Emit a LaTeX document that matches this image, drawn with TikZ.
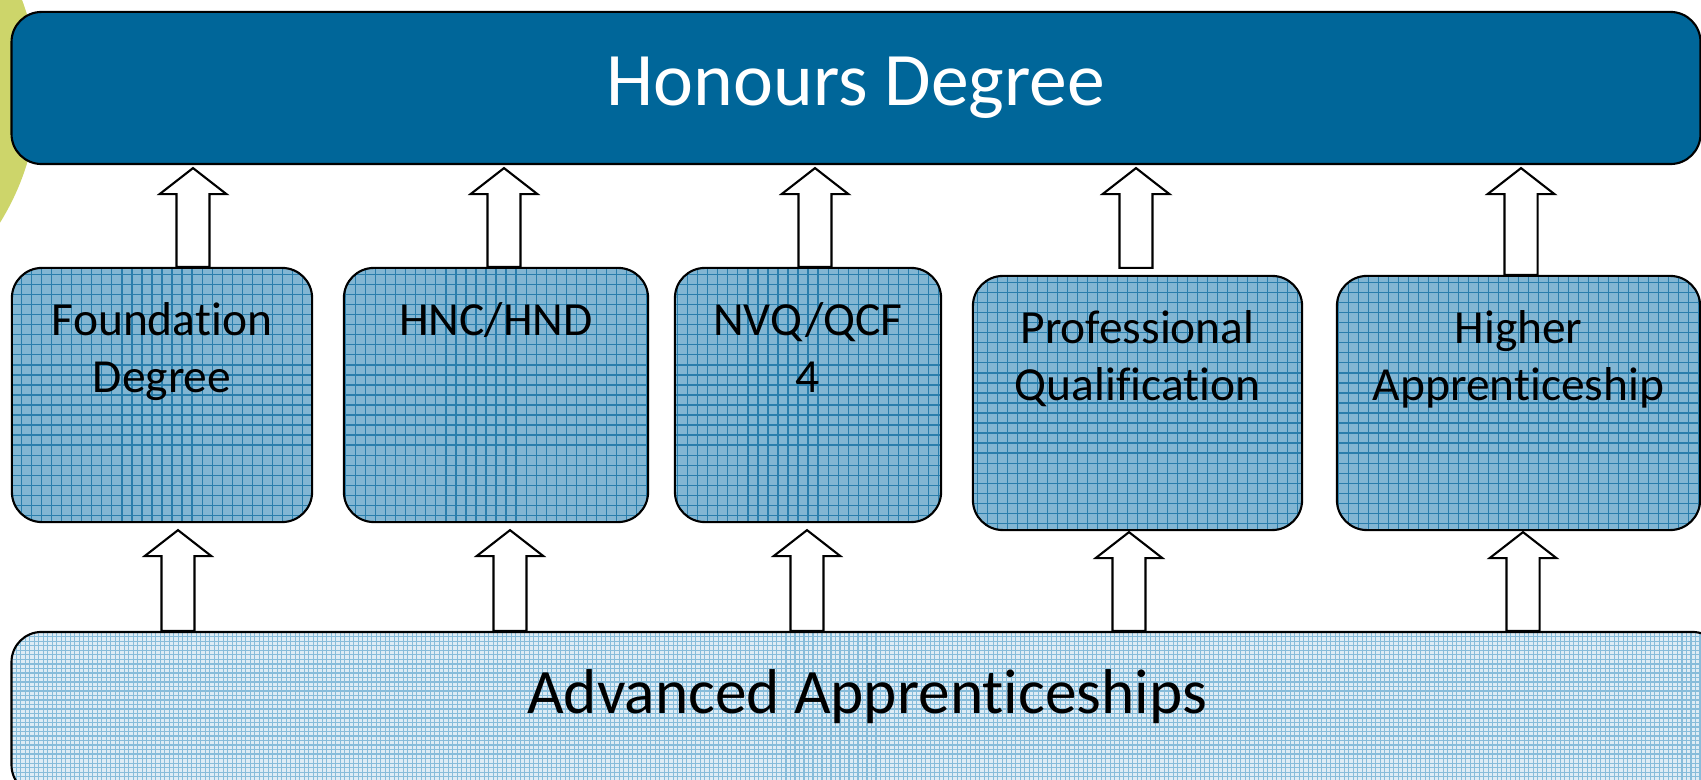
\documentclass[tikz,border=0pt]{standalone}
\usepackage{fontspec}
\setmainfont{Carlito}[Ligatures=NoCommon]
\usetikzlibrary{positioning,calc}

\definecolor{honblue}{RGB}{0,102,153}
\definecolor{midfill}{RGB}{130,182,211}
\definecolor{midgrid}{RGB}{42,126,172}
\definecolor{advfill}{RGB}{222,236,245}
\definecolor{advgrid}{RGB}{135,188,218}
\definecolor{slidegreen}{RGB}{205,213,106}

\tikzset{
  box/.style={draw, line width=0.6pt, rounded corners=0.3cm, inner sep=0pt},
  midbox/.style={box, fill=midfill, minimum height=2.54cm,
    path picture={\draw[midgrid, line width=0.3pt] (path picture bounding box.south west)
      grid[step=0.1cm] (path picture bounding box.north east);}},
  advbox/.style={box, fill=advfill,
    path picture={\draw[advgrid, line width=0.3pt] (path picture bounding box.south west)
      grid[step=0.045cm] (path picture bounding box.north east);}},
  midtext/.style={font=\fontsize{13.5}{16.2}\selectfont, align=center, inner sep=0pt},
  blockarrow/.style={draw, fill=white, line width=0.6pt, to path={
    let \p1=(\tikztostart), \p2=(\tikztotarget) in
    (\x1-4.7pt,\y1) -- (\x1-4.7pt,\y2-7.4pt) -- (\x1-9.5pt,\y2-7.4pt) -- (\x1,\y2)
    -- (\x1+9.5pt,\y2-7.4pt) -- (\x1+4.7pt,\y2-7.4pt) -- (\x1+4.7pt,\y1) -- cycle}}
}

\begin{document}
\begin{tikzpicture}[x=0.01cm, y=-0.01cm]
    \useasboundingbox (0,0) rectangle (1701,780);
    \clip (0,0) rectangle (1701,780);

    % slide background
    \fill[slidegreen] (-215,89) circle[radius=2.53cm];

    % top and bottom bars
    \node[box, fill=honblue, text=white, minimum width=16.88cm, minimum height=1.52cm,
          font=\fontsize{21.5}{26}\selectfont] (top) at (856,88) {Honours Degree};
    \node[advbox, minimum width=17.1cm, minimum height=1.63cm] (adv) at (867,713.5) {};
    \node[font=\fontsize{18}{22}\selectfont, inner sep=0pt, anchor=base] (advtxt) at (867,713)
        {Advanced Apprenticeships};

    % routes in between
    \node[midbox, minimum width=3.00cm] (found) at (162,395) {};
    \node[midbox, minimum width=3.04cm] (hnc) at (496,395) {};
    \node[midbox, minimum width=2.66cm] (nvq) at (808,395) {};
    \node[midbox, minimum width=3.29cm] (prof) at (1137.5,403) {};
    \node[midbox, minimum width=3.63cm] (higher) at (1518.5,403) {};

    \node[midtext, below=0.35cm of found.north] (foundtxt) {Foundation\\Degree};
    \node[midtext, below=0.35cm of hnc.north] (hnctxt) {HNC/HND};
    \node[midtext, below=0.35cm of nvq.north] (nvqtxt) {NVQ/QCF\\4};
    \node[midtext, below=0.35cm of prof.north] (proftxt) {Professional\\Qualification};
    \node[midtext, below=0.35cm of higher.north] (highertxt) {Higher\\Apprenticeship};

    % up to the degree
    \draw[blockarrow] ([xshift=0.31cm]found.north) to ([yshift=-0.03cm]top.south);
    \draw[blockarrow] ([xshift=0.08cm]hnc.north) to ([yshift=-0.03cm]top.south);
    \draw[blockarrow] ([xshift=0.07cm]nvq.north) to ([yshift=-0.03cm]top.south);
    \draw[blockarrow] ([xshift=-0.015cm,yshift=0.07cm]prof.north) to ([yshift=-0.03cm]top.south);
    \draw[blockarrow] ([xshift=0.025cm]higher.north) to ([yshift=-0.03cm]top.south);

    % up from the apprenticeships
    \draw[blockarrow] ([xshift=0.16cm]adv.north -| found) to ([yshift=-0.07cm]found.south);
    \draw[blockarrow] ([xshift=0.14cm]adv.north -| hnc) to ([yshift=-0.07cm]hnc.south);
    \draw[blockarrow] ([xshift=-0.01cm]adv.north -| nvq) to ([yshift=-0.07cm]nvq.south);
    \draw[blockarrow] ([xshift=-0.085cm]adv.north -| prof) to ([yshift=-0.01cm]prof.south);
    \draw[blockarrow] ([xshift=0.045cm]adv.north -| higher) to ([yshift=-0.01cm]higher.south);
\end{tikzpicture}
\end{document}
